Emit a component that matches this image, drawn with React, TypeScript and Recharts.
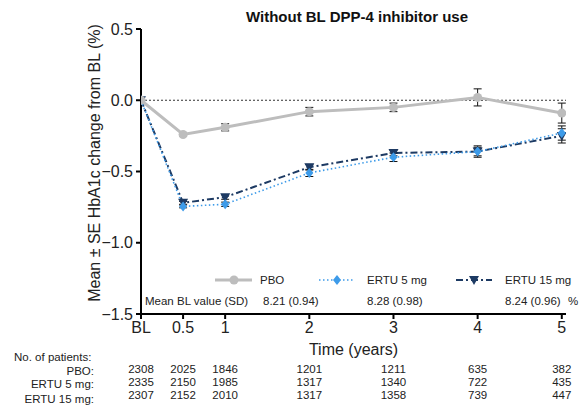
import { LineChart, Line, XAxis, YAxis, ReferenceLine, ErrorBar } from "recharts"

const years = [0, 0.5, 1, 2, 3, 4, 5]
const xTicks = [0, 0.5, 1, 2, 3, 4, 5]
const yTicks = [0.5, 0, -0.5, -1, -1.5]

const pbo = [0, -0.24, -0.19, -0.08, -0.05, 0.02, -0.09]
const pboSe = [0, 0.01, 0.025, 0.03, 0.03, 0.06, 0.07]
const ertu5 = [0, -0.745, -0.73, -0.51, -0.4, -0.36, -0.23]
const ertu5Se = [0, 0.01, 0.015, 0.025, 0.03, 0.04, 0.05]
const ertu15 = [0, -0.72, -0.68, -0.47, -0.37, -0.36, -0.25]
const ertu15Se = [0, 0.01, 0.015, 0.02, 0.02, 0.03, 0.05]

const nPbo = [2308, 2025, 1846, 1201, 1211, 635, 382]
const nErtu5 = [2335, 2150, 1985, 1317, 1340, 722, 435]
const nErtu15 = [2307, 2152, 2010, 1317, 1358, 739, 447]

const seriesNames = ["PBO", "ERTU 5 mg", "ERTU 15 mg"]
const baselineValues = ["8.21 (0.94)", "8.28 (0.98)", "8.24 (0.96)"]

const FONT = "'Liberation Sans', Arial, sans-serif"
const GRAY = "#bdbdbd"
const BLUE = "#3d9be9"
const NAVY = "#1d3a63"
const X_DOMAIN: [number, number] = [0, 5.05]

const data = years.map((t, i) => ({
	t,
	pbo: pbo[i],
	pboSe: pboSe[i],
	ertu5: ertu5[i],
	ertu5Se: ertu5Se[i],
	ertu15: ertu15[i],
	ertu15Se: ertu15Se[i],
}))

const circleDot = (p: any) => <circle key={`c${p.index}`} cx={p.cx} cy={p.cy} r={4.5} fill={GRAY} />
const diamondDot = (p: any) => (
	<path key={`d${p.index}`} d={`M${p.cx},${p.cy - 5}L${p.cx + 4},${p.cy}L${p.cx},${p.cy + 5}L${p.cx - 4},${p.cy}Z`} fill={BLUE} />
)
const triangleDot = (p: any) => (
	<path key={`t${p.index}`} d={`M${p.cx - 5},${p.cy - 4}L${p.cx + 5},${p.cy - 4}L${p.cx},${p.cy + 5}Z`} fill={NAVY} />
)

const fmtY = (v: number) => (v < 0 ? "\u2212" + Math.abs(v).toFixed(1) : v.toFixed(1))
const fmtX = (v: number) => (v === 0 ? "BL" : String(v))
const countFmt = (arr: number[]) => (v: number) => String(arr[years.indexOf(v)] ?? "")

const rowTick = { fontSize: 11.5, fill: "#222", fontFamily: FONT }
const rowLabel = (value: string) => ({ value, position: "left" as const, offset: 47, fontSize: 11.5, fill: "#222", fontFamily: FONT })

// patient-count rows are extra x axes below the main one (ids sort in stacking order)
const countRows = [
	{ id: "r1", label: "PBO:", counts: nPbo, height: 13 },
	{ id: "r2", label: "ERTU 5 mg:", counts: nErtu5, height: 13 },
	{ id: "r3", label: "ERTU 15 mg:", counts: nErtu15, height: 18 },
]

export default function App() {
	return (
		<div style={{ position: "relative", width: 580, height: 408, background: "#fff", fontFamily: FONT }}>
			<style>{`body{margin:0}`}</style>
			<LineChart width={580} height={408} data={data} margin={{ top: 29, right: 14, bottom: 0, left: 81 }}>
				<XAxis
					dataKey="t"
					type="number"
					domain={X_DOMAIN}
					allowDataOverflow
					ticks={xTicks}
					tickFormatter={fmtX}
					height={50}
					stroke="#000"
					strokeWidth={2}
					tickSize={5}
					tickMargin={3}
					tick={{ fontSize: 16, fill: "#222", fontFamily: FONT }}
					label={{ value: "Time (years)", position: "insideBottom", offset: 9, fontSize: 16, fill: "#222", fontFamily: FONT }}
				/>
				{countRows.map((r) => (
					<XAxis
						key={r.id}
						xAxisId={r.id}
						dataKey="t"
						type="number"
						domain={X_DOMAIN}
						allowDataOverflow
						ticks={xTicks}
						tickFormatter={countFmt(r.counts)}
						height={r.height}
						axisLine={false}
						tickLine={false}
						tickSize={0}
						tickMargin={1}
						tick={rowTick}
						label={rowLabel(r.label)}
					/>
				))}
				<YAxis
					type="number"
					domain={[-1.5, 0.5]}
					ticks={yTicks}
					tickFormatter={fmtY}
					width={60}
					stroke="#000"
					strokeWidth={2}
					tickSize={5}
					tickMargin={3}
					tick={{ fontSize: 16, fill: "#222", fontFamily: FONT }}
				/>
				<ReferenceLine y={0} stroke="#333" strokeWidth={1} strokeDasharray="2 2" />
				<Line dataKey="ertu15" stroke={NAVY} strokeWidth={2} strokeDasharray="7 3 2 3" dot={triangleDot} isAnimationActive={false}>
					<ErrorBar dataKey="ertu15Se" direction="y" width={4} stroke="#111" strokeWidth={1} />
				</Line>
				<Line dataKey="ertu5" stroke={BLUE} strokeWidth={1.6} strokeDasharray="1.5 2.5" dot={diamondDot} isAnimationActive={false}>
					<ErrorBar dataKey="ertu5Se" direction="y" width={4} stroke="#111" strokeWidth={1} />
				</Line>
				<Line dataKey="pbo" stroke={GRAY} strokeWidth={3} dot={circleDot} isAnimationActive={false}>
					<ErrorBar dataKey="pboSe" direction="y" width={4} stroke="#111" strokeWidth={1} />
				</Line>
			</LineChart>
			<svg width={580} height={408} style={{ position: "absolute", left: 0, top: 0, pointerEvents: "none" }} fontFamily={FONT}>
				<text x={357} y={22} textAnchor="middle" fontSize={15} fontWeight="bold" fill="#111">
					Without BL DPP-4 inhibitor use
				</text>
				<text transform="translate(100,163) rotate(-90)" textAnchor="middle" fontSize={16} fill="#222">
					Mean ± SE HbA1c change from BL (%)
				</text>
				{/* legend */}
				<g fontSize={11.5} fill="#222">
					<line x1={215} y1={280} x2={252} y2={280} stroke={GRAY} strokeWidth={3} />
					<circle cx={234} cy={280} r={4.5} fill={GRAY} />
					<text x={260} y={284}>{seriesNames[0]}</text>
					<line x1={319} y1={280} x2={355} y2={280} stroke={BLUE} strokeWidth={1.6} strokeDasharray="1.5 2.5" />
					<path d="M337,275L341,280L337,285L333,280Z" fill={BLUE} />
					<text x={367} y={284}>{seriesNames[1]}</text>
					<line x1={456} y1={280} x2={492} y2={280} stroke={NAVY} strokeWidth={2} strokeDasharray="7 3 2 3" />
					<path d="M469,276L479,276L474,285Z" fill={NAVY} />
					<text x={505} y={284}>{seriesNames[2]}</text>
				</g>
				<g fontSize={11.5} fill="#222">
					<text x={145} y={305}>Mean BL value (SD)</text>
					<text x={263} y={305}>{baselineValues[0]}</text>
					<text x={367} y={305}>{baselineValues[1]}</text>
					<text x={505} y={305}>{baselineValues[2]}</text>
					<text x={568} y={305}>%</text>
				</g>
				<text x={14} y={361} fontSize={11.5} fill="#222">
					No. of patients:
				</text>
			</svg>
		</div>
	)
}
